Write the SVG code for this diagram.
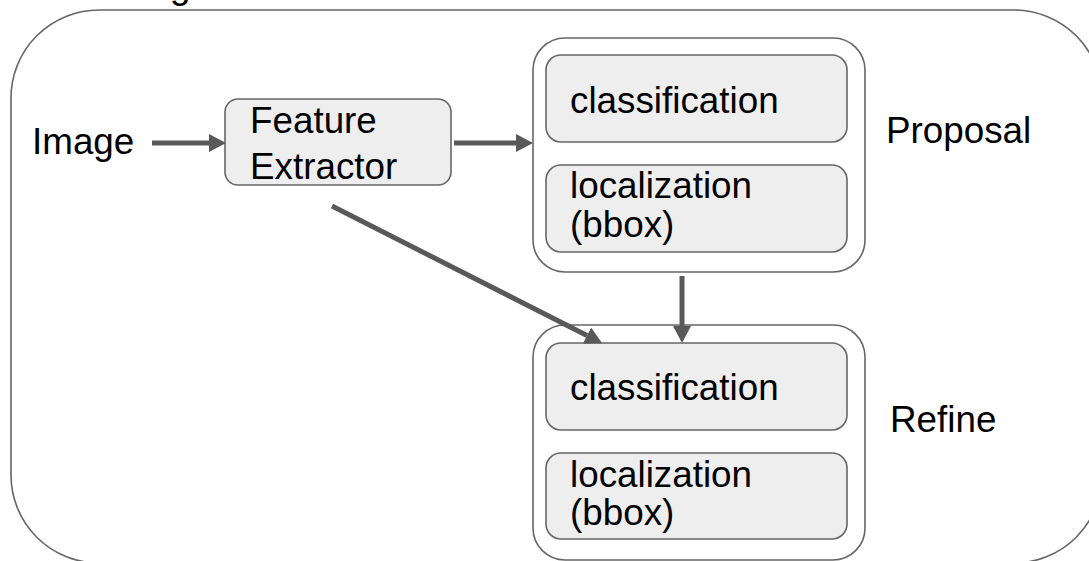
<svg xmlns="http://www.w3.org/2000/svg" width="1089" height="561" viewBox="0 0 1089 561">
  <defs>
    <style>
      .lbl { font-family: "Liberation Sans", Arial, sans-serif; font-size: 36.8px; fill: #000000; }
      .frame { fill: #ffffff; stroke: #666666; stroke-width: 1.6; }
      .stage { fill: #ffffff; stroke: #666666; stroke-width: 1.6; }
      .block { fill: #eeeeee; stroke: #666666; stroke-width: 1.6; }
      .edge { fill: none; stroke: #595959; stroke-width: 5; }
    </style>
    <marker id="head" markerUnits="userSpaceOnUse" markerWidth="17" markerHeight="18" viewBox="0 0 17 18" refX="0" refY="9" orient="auto">
      <path d="M0,0 L17,9 L0,18 z" fill="#595959"/>
    </marker>
  </defs>

  <!-- outer frame, running past the canvas edges -->
  <g id="frame">
    <rect class="frame" x="11" y="10" width="1091" height="553" rx="88" ry="88"/>
    <text class="lbl" x="170" y="-2">g</text>
  </g>

  <g id="input">
    <text class="lbl" x="32" y="154">Image</text>
  </g>

  <g id="feature-extractor">
    <rect class="block" x="225" y="99" width="226" height="86" rx="13" ry="13"/>
    <text class="lbl" x="250" y="133">Feature</text>
    <text class="lbl" x="250" y="179">Extractor</text>
  </g>

  <g id="proposal">
    <rect class="stage" x="533" y="38" width="332" height="234" rx="32" ry="32"/>
    <rect class="block" x="546" y="55" width="301" height="87" rx="15" ry="15"/>
    <text class="lbl" x="570" y="113">classification</text>
    <rect class="block" x="546" y="165" width="301" height="87" rx="15" ry="15"/>
    <text class="lbl" x="570" y="198">localization</text>
    <text class="lbl" x="570" y="237">(bbox)</text>
    <text class="lbl" x="886" y="143">Proposal</text>
  </g>

  <g id="refine">
    <rect class="stage" x="533" y="325" width="332" height="235" rx="32" ry="32"/>
    <rect class="block" x="546" y="343" width="301" height="87" rx="15" ry="15"/>
    <text class="lbl" x="570" y="400">classification</text>
    <rect class="block" x="546" y="453" width="301" height="86" rx="15" ry="15"/>
    <text class="lbl" x="570" y="487">localization</text>
    <text class="lbl" x="570" y="525">(bbox)</text>
    <text class="lbl" x="890" y="432">Refine</text>
  </g>

  <g id="connectors">
    <line class="edge" x1="152" y1="143" x2="209" y2="143" marker-end="url(#head)"/>
    <line class="edge" x1="454" y1="143" x2="516" y2="143" marker-end="url(#head)"/>
    <line class="edge" x1="682" y1="276" x2="682" y2="326" marker-end="url(#head)"/>
    <line class="edge" x1="332" y1="206" x2="587" y2="335.5" marker-end="url(#head)"/>
  </g>
</svg>
